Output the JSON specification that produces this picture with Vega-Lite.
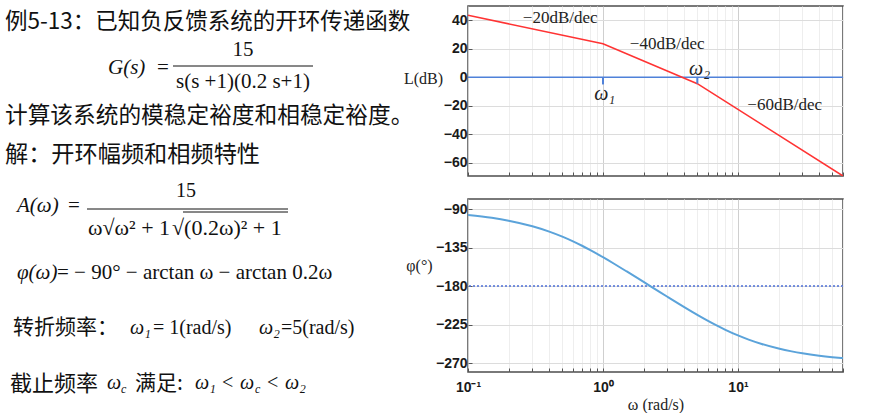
{
  "$schema": "https://vega.github.io/schema/vega-lite/v6.json",
  "background": "white",
  "padding": {"left": 0, "top": 5, "right": 0, "bottom": 0},
  "bounds": "flush",
  "spacing": 5,
  "config": {"view": {"stroke": null}, "font": "Liberation Sans"},
  "datasets": {
    "one": [{}],
    "mag": [
      {"w": 0.1, "L": 43.52},
      {"w": 1, "L": 23.52},
      {"w": 5, "L": -4.44},
      {"w": 60, "L": -69.19}
    ],
    "phase": [
      {"w": 0.1, "p": -96.86}, {"w": 0.15, "p": -100.25}, {"w": 0.2, "p": -103.6},
      {"w": 0.3, "p": -110.13}, {"w": 0.4, "p": -116.38}, {"w": 0.5, "p": -122.28},
      {"w": 0.6, "p": -127.81}, {"w": 0.7, "p": -132.96}, {"w": 0.8, "p": -137.75},
      {"w": 1, "p": -146.31}, {"w": 1.2, "p": -153.69}, {"w": 1.5, "p": -163.01},
      {"w": 2, "p": -175.24}, {"w": 2.5, "p": -184.76}, {"w": 3, "p": -192.53},
      {"w": 4, "p": -204.62}, {"w": 5, "p": -213.69}, {"w": 6, "p": -220.73},
      {"w": 7, "p": -226.33}, {"w": 8, "p": -230.87}, {"w": 10, "p": -237.72},
      {"w": 12, "p": -242.62}, {"w": 15, "p": -247.75}, {"w": 20, "p": -253.1},
      {"w": 25, "p": -256.4}, {"w": 30, "p": -258.63}, {"w": 40, "p": -261.44},
      {"w": 50, "p": -263.14}, {"w": 60, "p": -264.28}
    ]
  },
  "hconcat": [
    {
      "width": 463,
      "height": 404,
      "data": {"name": "one"},
      "view": {"stroke": null},
      "layer": [
        {"mark": {"type": "text", "text": "例5-13：已知负反馈系统的开环传递函数", "font": "Noto Sans CJK SC", "fontSize": 22.5, "align": "left", "baseline": "middle", "color": "#111"},
         "encoding": {"x": {"datum": 5, "type": "quantitative", "scale": {"domain": [0, 463], "nice": false, "zero": false}, "axis": null}, "y": {"datum": 21, "type": "quantitative", "scale": {"domain": [5, 409], "reverse": true, "nice": false, "zero": false}, "axis": null}}},
        {"mark": {"type": "text", "text": "G(s)", "font": "Liberation Serif", "fontStyle": "italic", "fontSize": 21, "align": "left", "baseline": "middle", "color": "#111"},
         "encoding": {"x": {"datum": 108, "type": "quantitative", "scale": {"domain": [0, 463], "nice": false, "zero": false}, "axis": null}, "y": {"datum": 67, "type": "quantitative", "scale": {"domain": [5, 409], "reverse": true, "nice": false, "zero": false}, "axis": null}}},
        {"mark": {"type": "text", "text": "=", "font": "Liberation Serif", "fontSize": 21, "align": "center", "baseline": "middle", "color": "#111"},
         "encoding": {"x": {"datum": 163, "type": "quantitative", "scale": {"domain": [0, 463], "nice": false, "zero": false}, "axis": null}, "y": {"datum": 67, "type": "quantitative", "scale": {"domain": [5, 409], "reverse": true, "nice": false, "zero": false}, "axis": null}}},
        {"mark": {"type": "text", "text": "15", "font": "Liberation Serif", "fontSize": 21, "align": "center", "baseline": "middle", "color": "#111"},
         "encoding": {"x": {"datum": 243, "type": "quantitative", "scale": {"domain": [0, 463], "nice": false, "zero": false}, "axis": null}, "y": {"datum": 49, "type": "quantitative", "scale": {"domain": [5, 409], "reverse": true, "nice": false, "zero": false}, "axis": null}}},
        {"mark": {"type": "rule", "color": "#111", "strokeWidth": 1},
         "encoding": {"x": {"datum": 173, "type": "quantitative", "scale": {"domain": [0, 463], "nice": false, "zero": false}, "axis": null}, "x2": {"datum": 313}, "y": {"datum": 65, "type": "quantitative", "scale": {"domain": [5, 409], "reverse": true, "nice": false, "zero": false}, "axis": null}}},
        {"mark": {"type": "text", "text": "s(s +1)(0.2 s+1)", "font": "Liberation Serif", "fontSize": 21, "align": "center", "baseline": "middle", "color": "#111"},
         "encoding": {"x": {"datum": 243, "type": "quantitative", "scale": {"domain": [0, 463], "nice": false, "zero": false}, "axis": null}, "y": {"datum": 81, "type": "quantitative", "scale": {"domain": [5, 409], "reverse": true, "nice": false, "zero": false}, "axis": null}}},
        {"mark": {"type": "text", "text": "计算该系统的模稳定裕度和相稳定裕度。", "font": "Noto Sans CJK SC", "fontSize": 22.7, "align": "left", "baseline": "middle", "color": "#111"},
         "encoding": {"x": {"datum": 5, "type": "quantitative", "scale": {"domain": [0, 463], "nice": false, "zero": false}, "axis": null}, "y": {"datum": 115, "type": "quantitative", "scale": {"domain": [5, 409], "reverse": true, "nice": false, "zero": false}, "axis": null}}},
        {"mark": {"type": "text", "text": "解：开环幅频和相频特性", "font": "Noto Sans CJK SC", "fontSize": 23.2, "align": "left", "baseline": "middle", "color": "#111"},
         "encoding": {"x": {"datum": 5, "type": "quantitative", "scale": {"domain": [0, 463], "nice": false, "zero": false}, "axis": null}, "y": {"datum": 154, "type": "quantitative", "scale": {"domain": [5, 409], "reverse": true, "nice": false, "zero": false}, "axis": null}}},
        {"mark": {"type": "text", "text": "A(ω)", "font": "Liberation Serif", "fontStyle": "italic", "fontSize": 21, "align": "left", "baseline": "middle", "color": "#111"},
         "encoding": {"x": {"datum": 17, "type": "quantitative", "scale": {"domain": [0, 463], "nice": false, "zero": false}, "axis": null}, "y": {"datum": 205, "type": "quantitative", "scale": {"domain": [5, 409], "reverse": true, "nice": false, "zero": false}, "axis": null}}},
        {"mark": {"type": "text", "text": "=", "font": "Liberation Serif", "fontSize": 21, "align": "center", "baseline": "middle", "color": "#111"},
         "encoding": {"x": {"datum": 74, "type": "quantitative", "scale": {"domain": [0, 463], "nice": false, "zero": false}, "axis": null}, "y": {"datum": 205, "type": "quantitative", "scale": {"domain": [5, 409], "reverse": true, "nice": false, "zero": false}, "axis": null}}},
        {"mark": {"type": "text", "text": "15", "font": "Liberation Serif", "fontSize": 20, "align": "center", "baseline": "middle", "color": "#111"},
         "encoding": {"x": {"datum": 186, "type": "quantitative", "scale": {"domain": [0, 463], "nice": false, "zero": false}, "axis": null}, "y": {"datum": 190, "type": "quantitative", "scale": {"domain": [5, 409], "reverse": true, "nice": false, "zero": false}, "axis": null}}},
        {"mark": {"type": "rule", "color": "#111", "strokeWidth": 1},
         "encoding": {"x": {"datum": 87, "type": "quantitative", "scale": {"domain": [0, 463], "nice": false, "zero": false}, "axis": null}, "x2": {"datum": 288}, "y": {"datum": 208, "type": "quantitative", "scale": {"domain": [5, 409], "reverse": true, "nice": false, "zero": false}, "axis": null}}},
        {"mark": {"type": "text", "text": "ω√ω² + 1", "font": "Liberation Serif", "fontSize": 22, "align": "left", "baseline": "middle", "color": "#111"},
         "encoding": {"x": {"datum": 88, "type": "quantitative", "scale": {"domain": [0, 463], "nice": false, "zero": false}, "axis": null}, "y": {"datum": 227, "type": "quantitative", "scale": {"domain": [5, 409], "reverse": true, "nice": false, "zero": false}, "axis": null}}},
        {"mark": {"type": "text", "text": "√(0.2ω)² + 1", "font": "Liberation Serif", "fontSize": 22, "align": "left", "baseline": "middle", "color": "#111"},
         "encoding": {"x": {"datum": 172, "type": "quantitative", "scale": {"domain": [0, 463], "nice": false, "zero": false}, "axis": null}, "y": {"datum": 227, "type": "quantitative", "scale": {"domain": [5, 409], "reverse": true, "nice": false, "zero": false}, "axis": null}}},
        {"mark": {"type": "rule", "color": "#111", "strokeWidth": 1},
         "encoding": {"x": {"datum": 183, "type": "quantitative", "scale": {"domain": [0, 463], "nice": false, "zero": false}, "axis": null}, "x2": {"datum": 288}, "y": {"datum": 211, "type": "quantitative", "scale": {"domain": [5, 409], "reverse": true, "nice": false, "zero": false}, "axis": null}}},
        {"mark": {"type": "text", "text": "φ(ω)", "font": "Liberation Serif", "fontStyle": "italic", "fontSize": 21, "align": "left", "baseline": "middle", "color": "#111"},
         "encoding": {"x": {"datum": 17, "type": "quantitative", "scale": {"domain": [0, 463], "nice": false, "zero": false}, "axis": null}, "y": {"datum": 272, "type": "quantitative", "scale": {"domain": [5, 409], "reverse": true, "nice": false, "zero": false}, "axis": null}}},
        {"mark": {"type": "text", "text": "= − 90° − arctan ω − arctan 0.2ω", "font": "Liberation Serif", "fontSize": 21, "align": "left", "baseline": "middle", "color": "#111"},
         "encoding": {"x": {"datum": 57, "type": "quantitative", "scale": {"domain": [0, 463], "nice": false, "zero": false}, "axis": null}, "y": {"datum": 272, "type": "quantitative", "scale": {"domain": [5, 409], "reverse": true, "nice": false, "zero": false}, "axis": null}}},
        {"mark": {"type": "text", "text": "转折频率：", "font": "Noto Sans CJK SC", "fontSize": 21, "align": "left", "baseline": "middle", "color": "#111"},
         "encoding": {"x": {"datum": 13, "type": "quantitative", "scale": {"domain": [0, 463], "nice": false, "zero": false}, "axis": null}, "y": {"datum": 327, "type": "quantitative", "scale": {"domain": [5, 409], "reverse": true, "nice": false, "zero": false}, "axis": null}}},
        {"mark": {"type": "text", "text": "ω₁", "font": "Liberation Serif", "fontStyle": "italic", "fontSize": 20, "align": "left", "baseline": "middle", "color": "#111"},
         "encoding": {"x": {"datum": 130, "type": "quantitative", "scale": {"domain": [0, 463], "nice": false, "zero": false}, "axis": null}, "y": {"datum": 327, "type": "quantitative", "scale": {"domain": [5, 409], "reverse": true, "nice": false, "zero": false}, "axis": null}}},
        {"mark": {"type": "text", "text": "= 1(rad/s)", "font": "Liberation Serif", "fontSize": 20, "align": "left", "baseline": "middle", "color": "#111"},
         "encoding": {"x": {"datum": 153, "type": "quantitative", "scale": {"domain": [0, 463], "nice": false, "zero": false}, "axis": null}, "y": {"datum": 327, "type": "quantitative", "scale": {"domain": [5, 409], "reverse": true, "nice": false, "zero": false}, "axis": null}}},
        {"mark": {"type": "text", "text": "ω₂", "font": "Liberation Serif", "fontStyle": "italic", "fontSize": 20, "align": "left", "baseline": "middle", "color": "#111"},
         "encoding": {"x": {"datum": 259, "type": "quantitative", "scale": {"domain": [0, 463], "nice": false, "zero": false}, "axis": null}, "y": {"datum": 327, "type": "quantitative", "scale": {"domain": [5, 409], "reverse": true, "nice": false, "zero": false}, "axis": null}}},
        {"mark": {"type": "text", "text": "=5(rad/s)", "font": "Liberation Serif", "fontSize": 20, "align": "left", "baseline": "middle", "color": "#111"},
         "encoding": {"x": {"datum": 281, "type": "quantitative", "scale": {"domain": [0, 463], "nice": false, "zero": false}, "axis": null}, "y": {"datum": 327, "type": "quantitative", "scale": {"domain": [5, 409], "reverse": true, "nice": false, "zero": false}, "axis": null}}},
        {"mark": {"type": "text", "text": "截止频率", "font": "Noto Sans CJK SC", "fontSize": 22, "align": "left", "baseline": "middle", "color": "#111"},
         "encoding": {"x": {"datum": 10, "type": "quantitative", "scale": {"domain": [0, 463], "nice": false, "zero": false}, "axis": null}, "y": {"datum": 383, "type": "quantitative", "scale": {"domain": [5, 409], "reverse": true, "nice": false, "zero": false}, "axis": null}}},
        {"mark": {"type": "text", "text": "ω", "font": "Liberation Serif", "fontStyle": "italic", "fontSize": 20, "align": "left", "baseline": "middle", "color": "#111"},
         "encoding": {"x": {"datum": 107, "type": "quantitative", "scale": {"domain": [0, 463], "nice": false, "zero": false}, "axis": null}, "y": {"datum": 382, "type": "quantitative", "scale": {"domain": [5, 409], "reverse": true, "nice": false, "zero": false}, "axis": null}}},
        {"mark": {"type": "text", "text": "c", "font": "Liberation Serif", "fontStyle": "italic", "fontSize": 12, "align": "left", "baseline": "middle", "color": "#111"},
         "encoding": {"x": {"datum": 121, "type": "quantitative", "scale": {"domain": [0, 463], "nice": false, "zero": false}, "axis": null}, "y": {"datum": 388, "type": "quantitative", "scale": {"domain": [5, 409], "reverse": true, "nice": false, "zero": false}, "axis": null}}},
        {"mark": {"type": "text", "text": "满足:", "font": "Noto Sans CJK SC", "fontSize": 21, "align": "left", "baseline": "middle", "color": "#111"},
         "encoding": {"x": {"datum": 135, "type": "quantitative", "scale": {"domain": [0, 463], "nice": false, "zero": false}, "axis": null}, "y": {"datum": 383, "type": "quantitative", "scale": {"domain": [5, 409], "reverse": true, "nice": false, "zero": false}, "axis": null}}},
        {"mark": {"type": "text", "text": "ω₁", "font": "Liberation Serif", "fontStyle": "italic", "fontSize": 20, "align": "left", "baseline": "middle", "color": "#111"},
         "encoding": {"x": {"datum": 195, "type": "quantitative", "scale": {"domain": [0, 463], "nice": false, "zero": false}, "axis": null}, "y": {"datum": 382, "type": "quantitative", "scale": {"domain": [5, 409], "reverse": true, "nice": false, "zero": false}, "axis": null}}},
        {"mark": {"type": "text", "text": "<", "font": "Liberation Serif", "fontSize": 20, "align": "left", "baseline": "middle", "color": "#111"},
         "encoding": {"x": {"datum": 222, "type": "quantitative", "scale": {"domain": [0, 463], "nice": false, "zero": false}, "axis": null}, "y": {"datum": 382, "type": "quantitative", "scale": {"domain": [5, 409], "reverse": true, "nice": false, "zero": false}, "axis": null}}},
        {"mark": {"type": "text", "text": "ω", "font": "Liberation Serif", "fontStyle": "italic", "fontSize": 20, "align": "left", "baseline": "middle", "color": "#111"},
         "encoding": {"x": {"datum": 240, "type": "quantitative", "scale": {"domain": [0, 463], "nice": false, "zero": false}, "axis": null}, "y": {"datum": 382, "type": "quantitative", "scale": {"domain": [5, 409], "reverse": true, "nice": false, "zero": false}, "axis": null}}},
        {"mark": {"type": "text", "text": "c", "font": "Liberation Serif", "fontStyle": "italic", "fontSize": 12, "align": "left", "baseline": "middle", "color": "#111"},
         "encoding": {"x": {"datum": 255, "type": "quantitative", "scale": {"domain": [0, 463], "nice": false, "zero": false}, "axis": null}, "y": {"datum": 388, "type": "quantitative", "scale": {"domain": [5, 409], "reverse": true, "nice": false, "zero": false}, "axis": null}}},
        {"mark": {"type": "text", "text": "<", "font": "Liberation Serif", "fontSize": 20, "align": "left", "baseline": "middle", "color": "#111"},
         "encoding": {"x": {"datum": 267, "type": "quantitative", "scale": {"domain": [0, 463], "nice": false, "zero": false}, "axis": null}, "y": {"datum": 382, "type": "quantitative", "scale": {"domain": [5, 409], "reverse": true, "nice": false, "zero": false}, "axis": null}}},
        {"mark": {"type": "text", "text": "ω₂", "font": "Liberation Serif", "fontStyle": "italic", "fontSize": 20, "align": "left", "baseline": "middle", "color": "#111"},
         "encoding": {"x": {"datum": 285, "type": "quantitative", "scale": {"domain": [0, 463], "nice": false, "zero": false}, "axis": null}, "y": {"datum": 382, "type": "quantitative", "scale": {"domain": [5, 409], "reverse": true, "nice": false, "zero": false}, "axis": null}}}
      ]
    },
    {
      "bounds": "flush",
      "spacing": 23,
      "vconcat": [
        {
          "width": 375,
          "height": 170,
          "view": {"stroke": "#4d4d4d", "strokeWidth": 1.5},
          "layer": [
            {"data": {"name": "one"},
             "mark": {"type": "rule", "color": "#4f81d9", "strokeWidth": 1.6},
             "encoding": {
               "y": {"datum": 0, "type": "quantitative", "scale": {"domain": [-69.2, 50], "nice": false, "zero": false},
                     "axis": {"values": [-60, -40, -20, 0, 20, 40], "labelOverlap": false, "labelFont": "Liberation Sans", "labelFontWeight": "bold", "labelFontSize": 14, "labelColor": "#1a1a1a", "labelPadding": 5, "domain": false, "ticks": true, "tickSize": -4, "tickColor": "#555", "grid": true, "gridColor": "#dcdcdc", "title": "L(dB)", "titleFont": "Liberation Serif", "titleFontWeight": "normal", "titleFontSize": 16, "titleAngle": 0, "titleX": -45, "titleY": 72, "titleAlign": "center", "titleBaseline": "middle", "titleColor": "#222"}}
             }},
            {"data": {"name": "mag"},
             "mark": {"type": "line", "color": "#ff3333", "strokeWidth": 1.6, "clip": true},
             "encoding": {
               "x": {"field": "w", "type": "quantitative", "scale": {"type": "log", "domain": [0.1, 60], "nice": false},
                     "axis": {"values": [0.1, 0.2, 0.3, 0.4, 0.5, 0.6, 0.7, 0.8, 0.9, 1, 2, 3, 4, 5, 6, 7, 8, 9, 10, 20, 30, 40, 50, 60], "labels": false, "domain": false, "ticks": true, "tickSize": -4, "tickColor": "#555", "grid": true, "gridColor": {"condition": {"test": "datum.value == 0.1 || datum.value == 1 || datum.value == 10", "value": "#cfcfcf"}, "value": "#eeeeee"}, "title": null}},
               "y": {"field": "L", "type": "quantitative", "scale": {"domain": [-69.2, 50], "nice": false, "zero": false},
                     "axis": {"values": [-60, -40, -20, 0, 20, 40], "labelOverlap": false, "labelFont": "Liberation Sans", "labelFontWeight": "bold", "labelFontSize": 14, "labelColor": "#1a1a1a", "labelPadding": 5, "domain": false, "ticks": true, "tickSize": -4, "tickColor": "#555", "grid": true, "gridColor": "#dcdcdc", "title": "L(dB)", "titleFont": "Liberation Serif", "titleFontWeight": "normal", "titleFontSize": 16, "titleAngle": 0, "titleX": -45, "titleY": 72, "titleAlign": "center", "titleBaseline": "middle", "titleColor": "#222"}}
             }},
            {"data": {"name": "one"},
             "mark": {"type": "rule", "color": "#4f81d9", "strokeWidth": 2},
             "encoding": {
               "x": {"datum": 1, "type": "quantitative", "scale": {"type": "log", "domain": [0.1, 60], "nice": false},
                     "axis": {"values": [0.1, 0.2, 0.3, 0.4, 0.5, 0.6, 0.7, 0.8, 0.9, 1, 2, 3, 4, 5, 6, 7, 8, 9, 10, 20, 30, 40, 50, 60], "labels": false, "domain": false, "ticks": true, "tickSize": -4, "tickColor": "#555", "grid": true, "gridColor": {"condition": {"test": "datum.value == 0.1 || datum.value == 1 || datum.value == 10", "value": "#cfcfcf"}, "value": "#eeeeee"}, "title": null}},
               "y": {"datum": 0, "type": "quantitative", "scale": {"domain": [-69.2, 50], "nice": false, "zero": false},
                     "axis": {"values": [-60, -40, -20, 0, 20, 40], "labelOverlap": false, "labelFont": "Liberation Sans", "labelFontWeight": "bold", "labelFontSize": 14, "labelColor": "#1a1a1a", "labelPadding": 5, "domain": false, "ticks": true, "tickSize": -4, "tickColor": "#555", "grid": true, "gridColor": "#dcdcdc", "title": "L(dB)", "titleFont": "Liberation Serif", "titleFontWeight": "normal", "titleFontSize": 16, "titleAngle": 0, "titleX": -45, "titleY": 72, "titleAlign": "center", "titleBaseline": "middle", "titleColor": "#222"}},
               "y2": {"datum": -5}
             }},
            {"data": {"name": "one"},
             "mark": {"type": "rule", "color": "#4f81d9", "strokeWidth": 2},
             "encoding": {
               "x": {"datum": 5, "type": "quantitative", "scale": {"type": "log", "domain": [0.1, 60], "nice": false},
                     "axis": {"values": [0.1, 0.2, 0.3, 0.4, 0.5, 0.6, 0.7, 0.8, 0.9, 1, 2, 3, 4, 5, 6, 7, 8, 9, 10, 20, 30, 40, 50, 60], "labels": false, "domain": false, "ticks": true, "tickSize": -4, "tickColor": "#555", "grid": true, "gridColor": {"condition": {"test": "datum.value == 0.1 || datum.value == 1 || datum.value == 10", "value": "#cfcfcf"}, "value": "#eeeeee"}, "title": null}},
               "y": {"datum": 0, "type": "quantitative", "scale": {"domain": [-69.2, 50], "nice": false, "zero": false},
                     "axis": {"values": [-60, -40, -20, 0, 20, 40], "labelOverlap": false, "labelFont": "Liberation Sans", "labelFontWeight": "bold", "labelFontSize": 14, "labelColor": "#1a1a1a", "labelPadding": 5, "domain": false, "ticks": true, "tickSize": -4, "tickColor": "#555", "grid": true, "gridColor": "#dcdcdc", "title": "L(dB)", "titleFont": "Liberation Serif", "titleFontWeight": "normal", "titleFontSize": 16, "titleAngle": 0, "titleX": -45, "titleY": 72, "titleAlign": "center", "titleBaseline": "middle", "titleColor": "#222"}},
               "y2": {"datum": -4.44}
             }},
            {"data": {"name": "one"},
             "mark": {"type": "text", "text": "−20dB/dec", "font": "Liberation Serif", "fontSize": 17, "color": "#222"},
             "encoding": {
               "x": {"datum": 0.482, "type": "quantitative", "scale": {"type": "log", "domain": [0.1, 60], "nice": false},
                     "axis": {"values": [0.1, 0.2, 0.3, 0.4, 0.5, 0.6, 0.7, 0.8, 0.9, 1, 2, 3, 4, 5, 6, 7, 8, 9, 10, 20, 30, 40, 50, 60], "labels": false, "domain": false, "ticks": true, "tickSize": -4, "tickColor": "#555", "grid": true, "gridColor": {"condition": {"test": "datum.value == 0.1 || datum.value == 1 || datum.value == 10", "value": "#cfcfcf"}, "value": "#eeeeee"}, "title": null}},
               "y": {"datum": 41.8, "type": "quantitative", "scale": {"domain": [-69.2, 50], "nice": false, "zero": false},
                     "axis": {"values": [-60, -40, -20, 0, 20, 40], "labelOverlap": false, "labelFont": "Liberation Sans", "labelFontWeight": "bold", "labelFontSize": 14, "labelColor": "#1a1a1a", "labelPadding": 5, "domain": false, "ticks": true, "tickSize": -4, "tickColor": "#555", "grid": true, "gridColor": "#dcdcdc", "title": "L(dB)", "titleFont": "Liberation Serif", "titleFontWeight": "normal", "titleFontSize": 16, "titleAngle": 0, "titleX": -45, "titleY": 72, "titleAlign": "center", "titleBaseline": "middle", "titleColor": "#222"}}
             }},
            {"data": {"name": "one"},
             "mark": {"type": "text", "text": "−40dB/dec", "font": "Liberation Serif", "fontSize": 17, "color": "#222"},
             "encoding": {
               "x": {"datum": 2.99, "type": "quantitative", "scale": {"type": "log", "domain": [0.1, 60], "nice": false},
                     "axis": {"values": [0.1, 0.2, 0.3, 0.4, 0.5, 0.6, 0.7, 0.8, 0.9, 1, 2, 3, 4, 5, 6, 7, 8, 9, 10, 20, 30, 40, 50, 60], "labels": false, "domain": false, "ticks": true, "tickSize": -4, "tickColor": "#555", "grid": true, "gridColor": {"condition": {"test": "datum.value == 0.1 || datum.value == 1 || datum.value == 10", "value": "#cfcfcf"}, "value": "#eeeeee"}, "title": null}},
               "y": {"datum": 23.2, "type": "quantitative", "scale": {"domain": [-69.2, 50], "nice": false, "zero": false},
                     "axis": {"values": [-60, -40, -20, 0, 20, 40], "labelOverlap": false, "labelFont": "Liberation Sans", "labelFontWeight": "bold", "labelFontSize": 14, "labelColor": "#1a1a1a", "labelPadding": 5, "domain": false, "ticks": true, "tickSize": -4, "tickColor": "#555", "grid": true, "gridColor": "#dcdcdc", "title": "L(dB)", "titleFont": "Liberation Serif", "titleFontWeight": "normal", "titleFontSize": 16, "titleAngle": 0, "titleX": -45, "titleY": 72, "titleAlign": "center", "titleBaseline": "middle", "titleColor": "#222"}}
             }},
            {"data": {"name": "one"},
             "mark": {"type": "text", "text": "−60dB/dec", "font": "Liberation Serif", "fontSize": 17, "color": "#222"},
             "encoding": {
               "x": {"datum": 22.2, "type": "quantitative", "scale": {"type": "log", "domain": [0.1, 60], "nice": false},
                     "axis": {"values": [0.1, 0.2, 0.3, 0.4, 0.5, 0.6, 0.7, 0.8, 0.9, 1, 2, 3, 4, 5, 6, 7, 8, 9, 10, 20, 30, 40, 50, 60], "labels": false, "domain": false, "ticks": true, "tickSize": -4, "tickColor": "#555", "grid": true, "gridColor": {"condition": {"test": "datum.value == 0.1 || datum.value == 1 || datum.value == 10", "value": "#cfcfcf"}, "value": "#eeeeee"}, "title": null}},
               "y": {"datum": -19.3, "type": "quantitative", "scale": {"domain": [-69.2, 50], "nice": false, "zero": false},
                     "axis": {"values": [-60, -40, -20, 0, 20, 40], "labelOverlap": false, "labelFont": "Liberation Sans", "labelFontWeight": "bold", "labelFontSize": 14, "labelColor": "#1a1a1a", "labelPadding": 5, "domain": false, "ticks": true, "tickSize": -4, "tickColor": "#555", "grid": true, "gridColor": "#dcdcdc", "title": "L(dB)", "titleFont": "Liberation Serif", "titleFontWeight": "normal", "titleFontSize": 16, "titleAngle": 0, "titleX": -45, "titleY": 72, "titleAlign": "center", "titleBaseline": "middle", "titleColor": "#222"}}
             }},
            {"data": {"name": "one"},
             "mark": {"type": "text", "text": "ω₁", "font": "Liberation Serif", "fontStyle": "italic", "fontSize": 20, "color": "#222"},
             "encoding": {
               "x": {"datum": 1.03, "type": "quantitative", "scale": {"type": "log", "domain": [0.1, 60], "nice": false},
                     "axis": {"values": [0.1, 0.2, 0.3, 0.4, 0.5, 0.6, 0.7, 0.8, 0.9, 1, 2, 3, 4, 5, 6, 7, 8, 9, 10, 20, 30, 40, 50, 60], "labels": false, "domain": false, "ticks": true, "tickSize": -4, "tickColor": "#555", "grid": true, "gridColor": {"condition": {"test": "datum.value == 0.1 || datum.value == 1 || datum.value == 10", "value": "#cfcfcf"}, "value": "#eeeeee"}, "title": null}},
               "y": {"datum": -11.5, "type": "quantitative", "scale": {"domain": [-69.2, 50], "nice": false, "zero": false},
                     "axis": {"values": [-60, -40, -20, 0, 20, 40], "labelOverlap": false, "labelFont": "Liberation Sans", "labelFontWeight": "bold", "labelFontSize": 14, "labelColor": "#1a1a1a", "labelPadding": 5, "domain": false, "ticks": true, "tickSize": -4, "tickColor": "#555", "grid": true, "gridColor": "#dcdcdc", "title": "L(dB)", "titleFont": "Liberation Serif", "titleFontWeight": "normal", "titleFontSize": 16, "titleAngle": 0, "titleX": -45, "titleY": 72, "titleAlign": "center", "titleBaseline": "middle", "titleColor": "#222"}}
             }},
            {"data": {"name": "one"},
             "mark": {"type": "text", "text": "ω₂", "font": "Liberation Serif", "fontStyle": "italic", "fontSize": 20, "color": "#222"},
             "encoding": {
               "x": {"datum": 5.2, "type": "quantitative", "scale": {"type": "log", "domain": [0.1, 60], "nice": false},
                     "axis": {"values": [0.1, 0.2, 0.3, 0.4, 0.5, 0.6, 0.7, 0.8, 0.9, 1, 2, 3, 4, 5, 6, 7, 8, 9, 10, 20, 30, 40, 50, 60], "labels": false, "domain": false, "ticks": true, "tickSize": -4, "tickColor": "#555", "grid": true, "gridColor": {"condition": {"test": "datum.value == 0.1 || datum.value == 1 || datum.value == 10", "value": "#cfcfcf"}, "value": "#eeeeee"}, "title": null}},
               "y": {"datum": 5.8, "type": "quantitative", "scale": {"domain": [-69.2, 50], "nice": false, "zero": false},
                     "axis": {"values": [-60, -40, -20, 0, 20, 40], "labelOverlap": false, "labelFont": "Liberation Sans", "labelFontWeight": "bold", "labelFontSize": 14, "labelColor": "#1a1a1a", "labelPadding": 5, "domain": false, "ticks": true, "tickSize": -4, "tickColor": "#555", "grid": true, "gridColor": "#dcdcdc", "title": "L(dB)", "titleFont": "Liberation Serif", "titleFontWeight": "normal", "titleFontSize": 16, "titleAngle": 0, "titleX": -45, "titleY": 72, "titleAlign": "center", "titleBaseline": "middle", "titleColor": "#222"}}
             }}
          ]
        },
        {
          "width": 375,
          "height": 173,
          "view": {"stroke": "#4d4d4d", "strokeWidth": 1.5},
          "layer": [
            {"data": {"name": "one"},
             "mark": {"type": "rule", "color": "#4d6fd6", "strokeWidth": 1.5, "strokeDash": [2, 2]},
             "encoding": {
               "y": {"datum": -180, "type": "quantitative", "scale": {"domain": [-280.5, -78.3], "nice": false, "zero": false},
                     "axis": {"values": [-270, -225, -180, -135, -90], "labelOverlap": false, "labelFont": "Liberation Sans", "labelFontWeight": "bold", "labelFontSize": 14, "labelColor": "#1a1a1a", "labelPadding": 5, "domain": false, "ticks": true, "tickSize": -4, "tickColor": "#555", "grid": true, "gridColor": "#dcdcdc", "title": "φ(°)", "titleFont": "Liberation Serif", "titleFontWeight": "normal", "titleFontSize": 16, "titleAngle": 0, "titleX": -49, "titleY": 66, "titleAlign": "center", "titleBaseline": "middle", "titleColor": "#222"}}
             }},
            {"data": {"name": "phase"},
             "mark": {"type": "line", "color": "#5ba3da", "strokeWidth": 2, "interpolate": "monotone", "clip": true},
             "encoding": {
               "x": {"field": "w", "type": "quantitative", "scale": {"type": "log", "domain": [0.1, 60], "nice": false},
                     "axis": {"values": [0.1, 0.2, 0.3, 0.4, 0.5, 0.6, 0.7, 0.8, 0.9, 1, 2, 3, 4, 5, 6, 7, 8, 9, 10, 20, 30, 40, 50, 60], "labelExpr": "datum.value == 0.1 ? '10⁻¹' : datum.value == 1 ? '10⁰' : datum.value == 10 ? '10¹' : ''", "labelFont": "Liberation Sans", "labelFontWeight": "bold", "labelFontSize": 14, "labelColor": "#1a1a1a", "labelPadding": 12, "labelOverlap": false, "labelFlush": false, "domain": false, "ticks": true, "tickSize": -4, "tickColor": "#555", "grid": true, "gridColor": {"condition": {"test": "datum.value == 0.1 || datum.value == 1 || datum.value == 10", "value": "#cfcfcf"}, "value": "#eeeeee"}, "title": "ω (rad/s)", "titleFont": "Liberation Serif", "titleFontWeight": "normal", "titleFontSize": 16, "titleY": 32, "titleBaseline": "middle", "titleColor": "#222"}},
               "y": {"field": "p", "type": "quantitative", "scale": {"domain": [-280.5, -78.3], "nice": false, "zero": false},
                     "axis": {"values": [-270, -225, -180, -135, -90], "labelOverlap": false, "labelFont": "Liberation Sans", "labelFontWeight": "bold", "labelFontSize": 14, "labelColor": "#1a1a1a", "labelPadding": 5, "domain": false, "ticks": true, "tickSize": -4, "tickColor": "#555", "grid": true, "gridColor": "#dcdcdc", "title": "φ(°)", "titleFont": "Liberation Serif", "titleFontWeight": "normal", "titleFontSize": 16, "titleAngle": 0, "titleX": -49, "titleY": 66, "titleAlign": "center", "titleBaseline": "middle", "titleColor": "#222"}}
             }}
          ]
        }
      ]
    }
  ]
}
